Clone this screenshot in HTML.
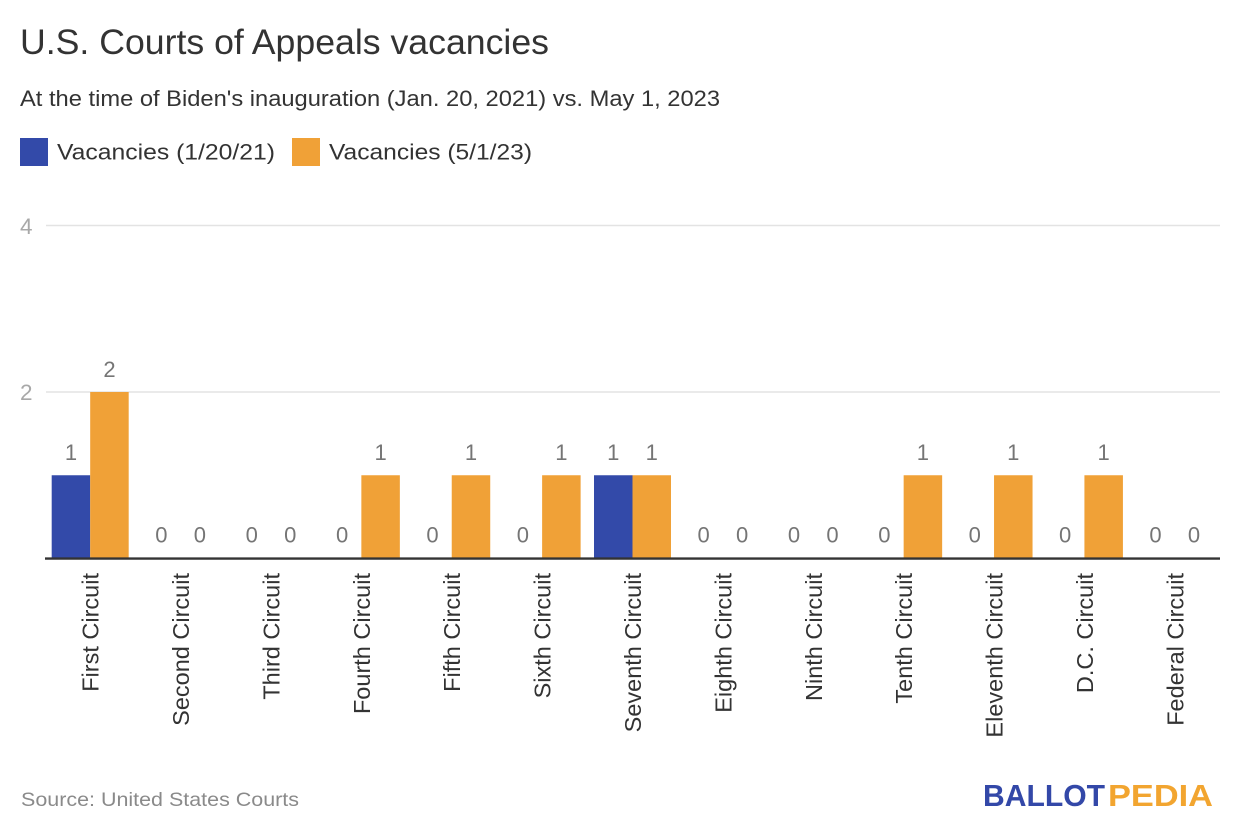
<!DOCTYPE html>
<html><head><meta charset="utf-8"><style>
html,body{margin:0;padding:0;background:#fff;}
svg{display:block;}
text{font-family:"Liberation Sans",Arial,sans-serif;}
</style></head><body>
<svg width="1240" height="840" viewBox="0 0 1240 840" xmlns="http://www.w3.org/2000/svg">
<rect width="1240" height="840" fill="#fff"/>
<text x="20" y="54" font-size="35" fill="#333" textLength="529" lengthAdjust="spacingAndGlyphs">U.S. Courts of Appeals vacancies</text>
<text x="20" y="106" font-size="22.5" fill="#333" textLength="700" lengthAdjust="spacingAndGlyphs">At the time of Biden's inauguration (Jan. 20, 2021) vs. May 1, 2023</text>
<rect x="20" y="138" width="28" height="28" fill="#334aa9"/>
<text x="57" y="159.5" font-size="22.5" fill="#333" textLength="218" lengthAdjust="spacingAndGlyphs">Vacancies (1/20/21)</text>
<rect x="292" y="138" width="28" height="28" fill="#f0a137"/>
<text x="329" y="159.5" font-size="22.5" fill="#333" textLength="203" lengthAdjust="spacingAndGlyphs">Vacancies (5/1/23)</text>

<line x1="46" y1="225.5" x2="1220" y2="225.5" stroke="#e3e3e3" stroke-width="1.5"/>
<line x1="46" y1="392" x2="1220" y2="392" stroke="#e3e3e3" stroke-width="1.5"/>
<text x="20" y="234" font-size="22.5" fill="#a8a8a8">4</text>
<text x="20" y="400" font-size="22.5" fill="#a8a8a8">2</text>

<g fill="#334aa9">
<rect x="51.69" y="475.25" width="38.5" height="83.25"/>
<rect x="594.0" y="475.25" width="38.5" height="83.25"/>
</g>
<g fill="#f0a137">
<rect x="90.19" y="392" width="38.5" height="166.5"/>
<rect x="361.35" y="475.25" width="38.5" height="83.25"/>
<rect x="451.73" y="475.25" width="38.5" height="83.25"/>
<rect x="542.12" y="475.25" width="38.5" height="83.25"/>
<rect x="632.5" y="475.25" width="38.5" height="83.25"/>
<rect x="903.65" y="475.25" width="38.5" height="83.25"/>
<rect x="994.04" y="475.25" width="38.5" height="83.25"/>
<rect x="1084.42" y="475.25" width="38.5" height="83.25"/>
</g>
<line x1="45" y1="558.6" x2="1220" y2="558.6" stroke="#333" stroke-width="2.4"/>

<g font-size="22" fill="#757575" text-anchor="middle">
<text x="70.94" y="460">1</text><text x="109.44" y="377">2</text>
<text x="161.33" y="542.5">0</text><text x="199.83" y="542.5">0</text>
<text x="251.71" y="542.5">0</text><text x="290.21" y="542.5">0</text>
<text x="342.1" y="542.5">0</text><text x="380.6" y="460">1</text>
<text x="432.48" y="542.5">0</text><text x="470.98" y="460">1</text>
<text x="522.87" y="542.5">0</text><text x="561.37" y="460">1</text>
<text x="613.25" y="460">1</text><text x="651.75" y="460">1</text>
<text x="703.63" y="542.5">0</text><text x="742.13" y="542.5">0</text>
<text x="794.02" y="542.5">0</text><text x="832.52" y="542.5">0</text>
<text x="884.4" y="542.5">0</text><text x="922.9" y="460">1</text>
<text x="974.79" y="542.5">0</text><text x="1013.29" y="460">1</text>
<text x="1065.17" y="542.5">0</text><text x="1103.67" y="460">1</text>
<text x="1155.56" y="542.5">0</text><text x="1194.06" y="542.5">0</text>
</g>

<g font-size="23.5" fill="#333" text-anchor="end">
<text transform="translate(98.69,573) rotate(-90)">First Circuit</text>
<text transform="translate(189.08,573) rotate(-90)">Second Circuit</text>
<text transform="translate(279.46,573) rotate(-90)">Third Circuit</text>
<text transform="translate(369.85,573) rotate(-90)">Fourth Circuit</text>
<text transform="translate(460.23,573) rotate(-90)">Fifth Circuit</text>
<text transform="translate(550.62,573) rotate(-90)">Sixth Circuit</text>
<text transform="translate(641.0,573) rotate(-90)">Seventh Circuit</text>
<text transform="translate(731.38,573) rotate(-90)">Eighth Circuit</text>
<text transform="translate(821.77,573) rotate(-90)">Ninth Circuit</text>
<text transform="translate(912.15,573) rotate(-90)">Tenth Circuit</text>
<text transform="translate(1002.54,573) rotate(-90)">Eleventh Circuit</text>
<text transform="translate(1092.92,573) rotate(-90)">D.C. Circuit</text>
<text transform="translate(1183.31,573) rotate(-90)">Federal Circuit</text>
</g>

<text x="21" y="806" font-size="19.5" fill="#8a8a8a" textLength="278" lengthAdjust="spacingAndGlyphs">Source: United States Courts</text>
<text x="983" y="806" font-size="31" font-weight="bold" fill="#3348a8" textLength="122" lengthAdjust="spacingAndGlyphs">BALLOT</text>
<text x="1108" y="806" font-size="31" font-weight="bold" fill="#f2a530" textLength="105" lengthAdjust="spacingAndGlyphs">PEDIA</text>
</svg>
</body></html>
